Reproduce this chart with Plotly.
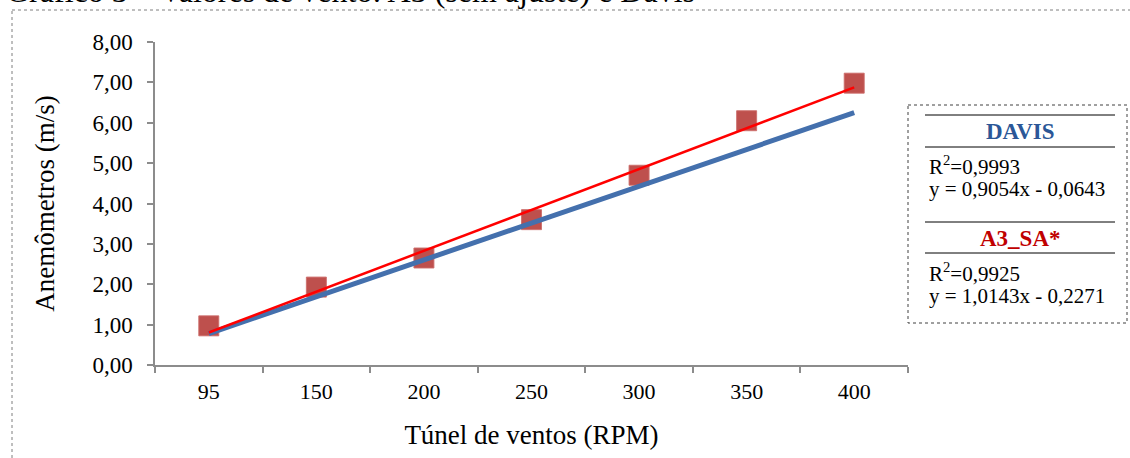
import numpy as np
import plotly.graph_objects as go

# ---- data ----
categories = ["95", "150", "200", "250", "300", "350", "400"]
a3_sa = [0.97, 1.93, 2.65, 3.60, 4.70, 6.05, 6.98]
davis = [0.78, 1.69, 2.60, 3.52, 4.43, 5.34, 6.25]
y_ticks = [0, 1, 2, 3, 4, 5, 6, 7, 8]
davis_r2 = "0,9993"
davis_eq = "y = 0,9054x - 0,0643"
a3_r2 = "0,9925"
a3_eq = "y = 1,0143x - 0,2271"

# linear trend of A3 series (as Excel trendline)
xi = np.arange(1, len(a3_sa) + 1)
slope, intercept = np.polyfit(xi, a3_sa, 1)
a3_trend = list(slope * xi + intercept)

W, H = 1130, 458
# plot area in screen pixels: x 155..908, y 42..365
SX0, SX1, SY0, SY1 = 155, 908, 42, 365
L, T = SX0, SY0
PW, PH = SX1 - SX0, SY1 - SY0
R = W - L - PW
B = H - T - PH


def px(x):
    return (x - SX0) / PW


def py(y):
    return 1 - (y - SY0) / PH


FONT = "Liberation Serif, Times New Roman, serif"

fig = go.Figure()
fig.add_trace(go.Scatter(
    x=categories, y=a3_sa, mode="markers",
    marker=dict(symbol="square", size=20, color="rgba(185,65,62,0.92)",
                line=dict(color="rgba(205,110,108,0.9)", width=1)),
    showlegend=False, hoverinfo="skip"))
fig.add_trace(go.Scatter(
    x=categories, y=davis, mode="lines",
    line=dict(color="#4470AD", width=5),
    showlegend=False, hoverinfo="skip"))
fig.add_trace(go.Scatter(
    x=categories, y=a3_trend, mode="lines",
    line=dict(color="#FF0000", width=2.5),
    showlegend=False, hoverinfo="skip"))

fig.update_layout(
    width=W, height=H,
    margin=dict(l=L, r=R, t=T, b=B),
    paper_bgcolor="white", plot_bgcolor="white",
    separators=",.",
    font=dict(family=FONT, size=22, color="black"),
    xaxis=dict(
        type="category", tickson="boundaries", range=[-0.5, 6.5],
        showline=True, linecolor="#8C8C8C", linewidth=1.5,
        ticks="outside", ticklen=6, tickcolor="#8C8C8C", tickwidth=1.5,
        showgrid=False, zeroline=False,
        tickfont=dict(size=22), ticklabelstandoff=6,
        title=dict(text="Túnel de ventos (RPM)", font=dict(size=27), standoff=22),
    ),
    yaxis=dict(
        range=[0, 8], tickvals=y_ticks, tickformat=".2f",
        showline=True, linecolor="#8C8C8C", linewidth=1.5,
        ticks="outside", ticklen=6, tickcolor="#8C8C8C", tickwidth=1.5,
        showgrid=False, zeroline=False,
        tickfont=dict(size=23), ticklabelstandoff=10,
        title=dict(text="Anemômetros (m/s)", font=dict(size=27), standoff=30),
    ),
)

shapes = []
# outer dotted frame
shapes.append(dict(type="rect", xref="paper", yref="paper",
                   x0=px(12), x1=px(W + 40), y0=py(10), y1=py(H + 40),
                   line=dict(color="#7F7F7F", width=1, dash="dot"), layer="below"))
# legend box
shapes.append(dict(type="rect", xref="paper", yref="paper",
                   x0=px(908), x1=px(1127), y0=py(105), y1=py(323),
                   line=dict(color="#404040", width=1, dash="dot")))
for yy in (115, 147, 222, 253):
    shapes.append(dict(type="line", xref="paper", yref="paper",
                       x0=px(925), x1=px(1115), y0=py(yy), y1=py(yy),
                       line=dict(color="black", width=1)))
fig.update_layout(shapes=shapes)

ann = []
ann.append(dict(text="Gráfico 3 – Valores de vento: A3 (sem ajuste) e Davis",
                xref="paper", yref="paper", x=px(4), y=py(11),
                xanchor="left", yanchor="bottom", showarrow=False,
                font=dict(size=32, family=FONT, color="black")))
ann.append(dict(text="<b>DAVIS</b>", xref="paper", yref="paper",
                x=px(1020), y=py(131), xanchor="center", yanchor="middle",
                showarrow=False, font=dict(size=23, family=FONT, color="#2B5797")))
ann.append(dict(text="<b>A3_SA*</b>", xref="paper", yref="paper",
                x=px(1020), y=py(238), xanchor="center", yanchor="middle",
                showarrow=False, font=dict(size=23, family=FONT, color="#C00000")))
for txt, yy in ((f"R<sup>2</sup>={davis_r2}", 165), (davis_eq, 189),
                (f"R<sup>2</sup>={a3_r2}", 272), (a3_eq, 296)):
    ann.append(dict(text=txt, xref="paper", yref="paper",
                    x=px(927), y=py(yy), xanchor="left", yanchor="middle",
                    showarrow=False, font=dict(size=21, family=FONT, color="black")))
fig.update_layout(annotations=ann)

fig.write_html("out.html", config={"displayModeBar": False},
               post_script="document.body.style.margin='0';")
